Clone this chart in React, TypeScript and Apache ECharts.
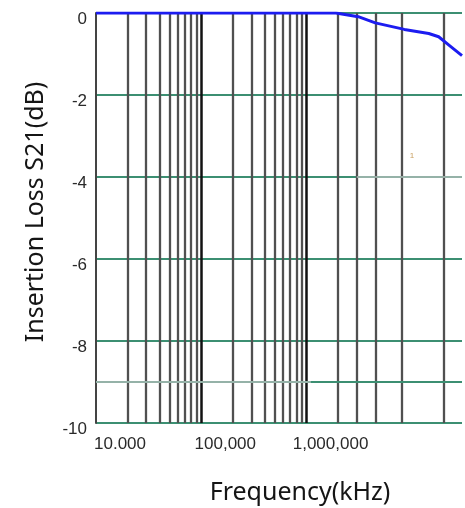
import React, { useEffect, useRef } from "react";
import * as echarts from "echarts";

// Insertion loss curve (frequency in kHz, loss in dB)
const freqKHz = [10000, 1000000, 1900000, 3100000, 4500000, 8500000, 14500000, 18000000, 23000000, 30000000];
const lossDb = [0, 0, 0, -0.09, -0.24, -0.4, -0.5, -0.58, -0.8, -1.04];

// X tick labels (as printed in the reference)
const xTickValues = [10000, 100000, 1000000];
const xTickLabels = ["10.000", "100,000", "1,000,000"];

// Vertical grid lines (kHz)
const vGridMajor = [100000, 1000000];
const vGridMinor = [
  20000, 30000, 40000, 50000, 60000, 70000, 80000, 90000,
  200000, 300000, 400000, 500000, 600000, 700000, 800000, 900000,
  2000000, 3000000, 4500000, 8000000, 20000000,
];
// Extra horizontal grid line (dB)
const hGridExtra = [-9];

const GREEN = "#3c8f72";

export default function App() {
  const ref = useRef<HTMLDivElement>(null);

  useEffect(() => {
    if (!ref.current) return;
    const chart = echarts.init(ref.current, undefined, { renderer: "svg" });

    const markData: any[] = [];
    vGridMinor.forEach((v) =>
      markData.push({ xAxis: v, lineStyle: { color: "#505050", width: 2.3, type: "solid" } })
    );
    vGridMajor.forEach((v) =>
      markData.push({ xAxis: v, lineStyle: { color: "#111", width: 2.5, type: "solid" } })
    );
    hGridExtra.forEach((v) =>
      markData.push({ yAxis: v, lineStyle: { color: GREEN, width: 2, type: "solid" } })
    );
    // lighter overlay segments seen on some grid lines
    const light = { color: "rgba(165,185,178,0.85)", width: 2, type: "solid" };
    markData.push([{ coord: [3000000, -4], lineStyle: light }, { coord: [30000000, -4] }]);
    markData.push([{ coord: [10000, -9], lineStyle: light }, { coord: [1100000, -9] }]);

    const option: any = {
      animation: false,
      grid: { left: 96, right: -2, top: 13, bottom: 85, containLabel: false },
      xAxis: {
        type: "log",
        logBase: 10,
        min: 10000,
        max: 30000000,
        axisLine: { show: false },
        axisTick: { show: false },
        splitLine: { show: false },
        axisLabel: {
          color: "#2a2a2a",
          fontSize: 17,
          fontFamily: "Liberation Sans, Arial, sans-serif",
          margin: 12,
          padding: [0, 0, 0, 48],
          formatter: (v: number) => {
            const i = xTickValues.findIndex((t) => Math.abs(Math.log10(t) - Math.log10(v)) < 1e-6);
            return i >= 0 ? xTickLabels[i] : "";
          },
        },
      },
      yAxis: {
        type: "value",
        min: -10,
        max: 0,
        interval: 2,
        axisLine: { show: true, lineStyle: { color: "#444", width: 2 } },
        axisTick: { show: false },
        splitLine: { show: true, lineStyle: { color: GREEN, width: 2 } },
        axisLabel: {
          color: "#2a2a2a",
          fontSize: 17,
          fontFamily: "Liberation Sans, Arial, sans-serif",
          margin: 9,
          verticalAlign: "top",
          lineHeight: 10,
        },
      },
      series: [
        {
          type: "line",
          data: freqKHz.map((f, i) => [f, lossDb[i]]),
          showSymbol: false,
          lineStyle: { opacity: 0 },
          silent: true,
          z: 1,
          markLine: {
            silent: true,
            symbol: "none",
            label: { show: false },
            animation: false,
            data: markData,
          },
        },
        {
          type: "line",
          data: freqKHz.map((f, i) => [f, lossDb[i]]),
          showSymbol: false,
          smooth: false,
          lineStyle: { color: "#1c1cf0", width: 3 },
          z: 5,
        },
      ],
      graphic: [
        {
          type: "text",
          x: 300,
          y: 490,
          style: {
            text: "Frequency(kHz)",
            fontSize: 25,
            fontFamily: "Noto Sans",
            fill: "#151515",
            align: "center",
            verticalAlign: "middle",
          },
        },
        {
          type: "text",
          x: 33,
          y: 212,
          rotation: Math.PI / 2,
          style: {
            text: "Insertion Loss S21(dB)",
            fontSize: 25,
            fontFamily: "Noto Sans",
            fill: "#151515",
            align: "center",
            verticalAlign: "middle",
          },
        },
        {
          type: "text",
          x: 412,
          y: 155,
          style: {
            text: "1",
            fontSize: 8,
            fontFamily: "Liberation Sans",
            fill: "#c9a060",
            align: "center",
            verticalAlign: "middle",
          },
        },
      ],
    };

    chart.setOption(option);
    return () => chart.dispose();
  }, []);

  return (
    <div
      ref={ref}
      style={{ position: "fixed", left: 0, top: 0, width: 465, height: 508 }}
    />
  );
}
